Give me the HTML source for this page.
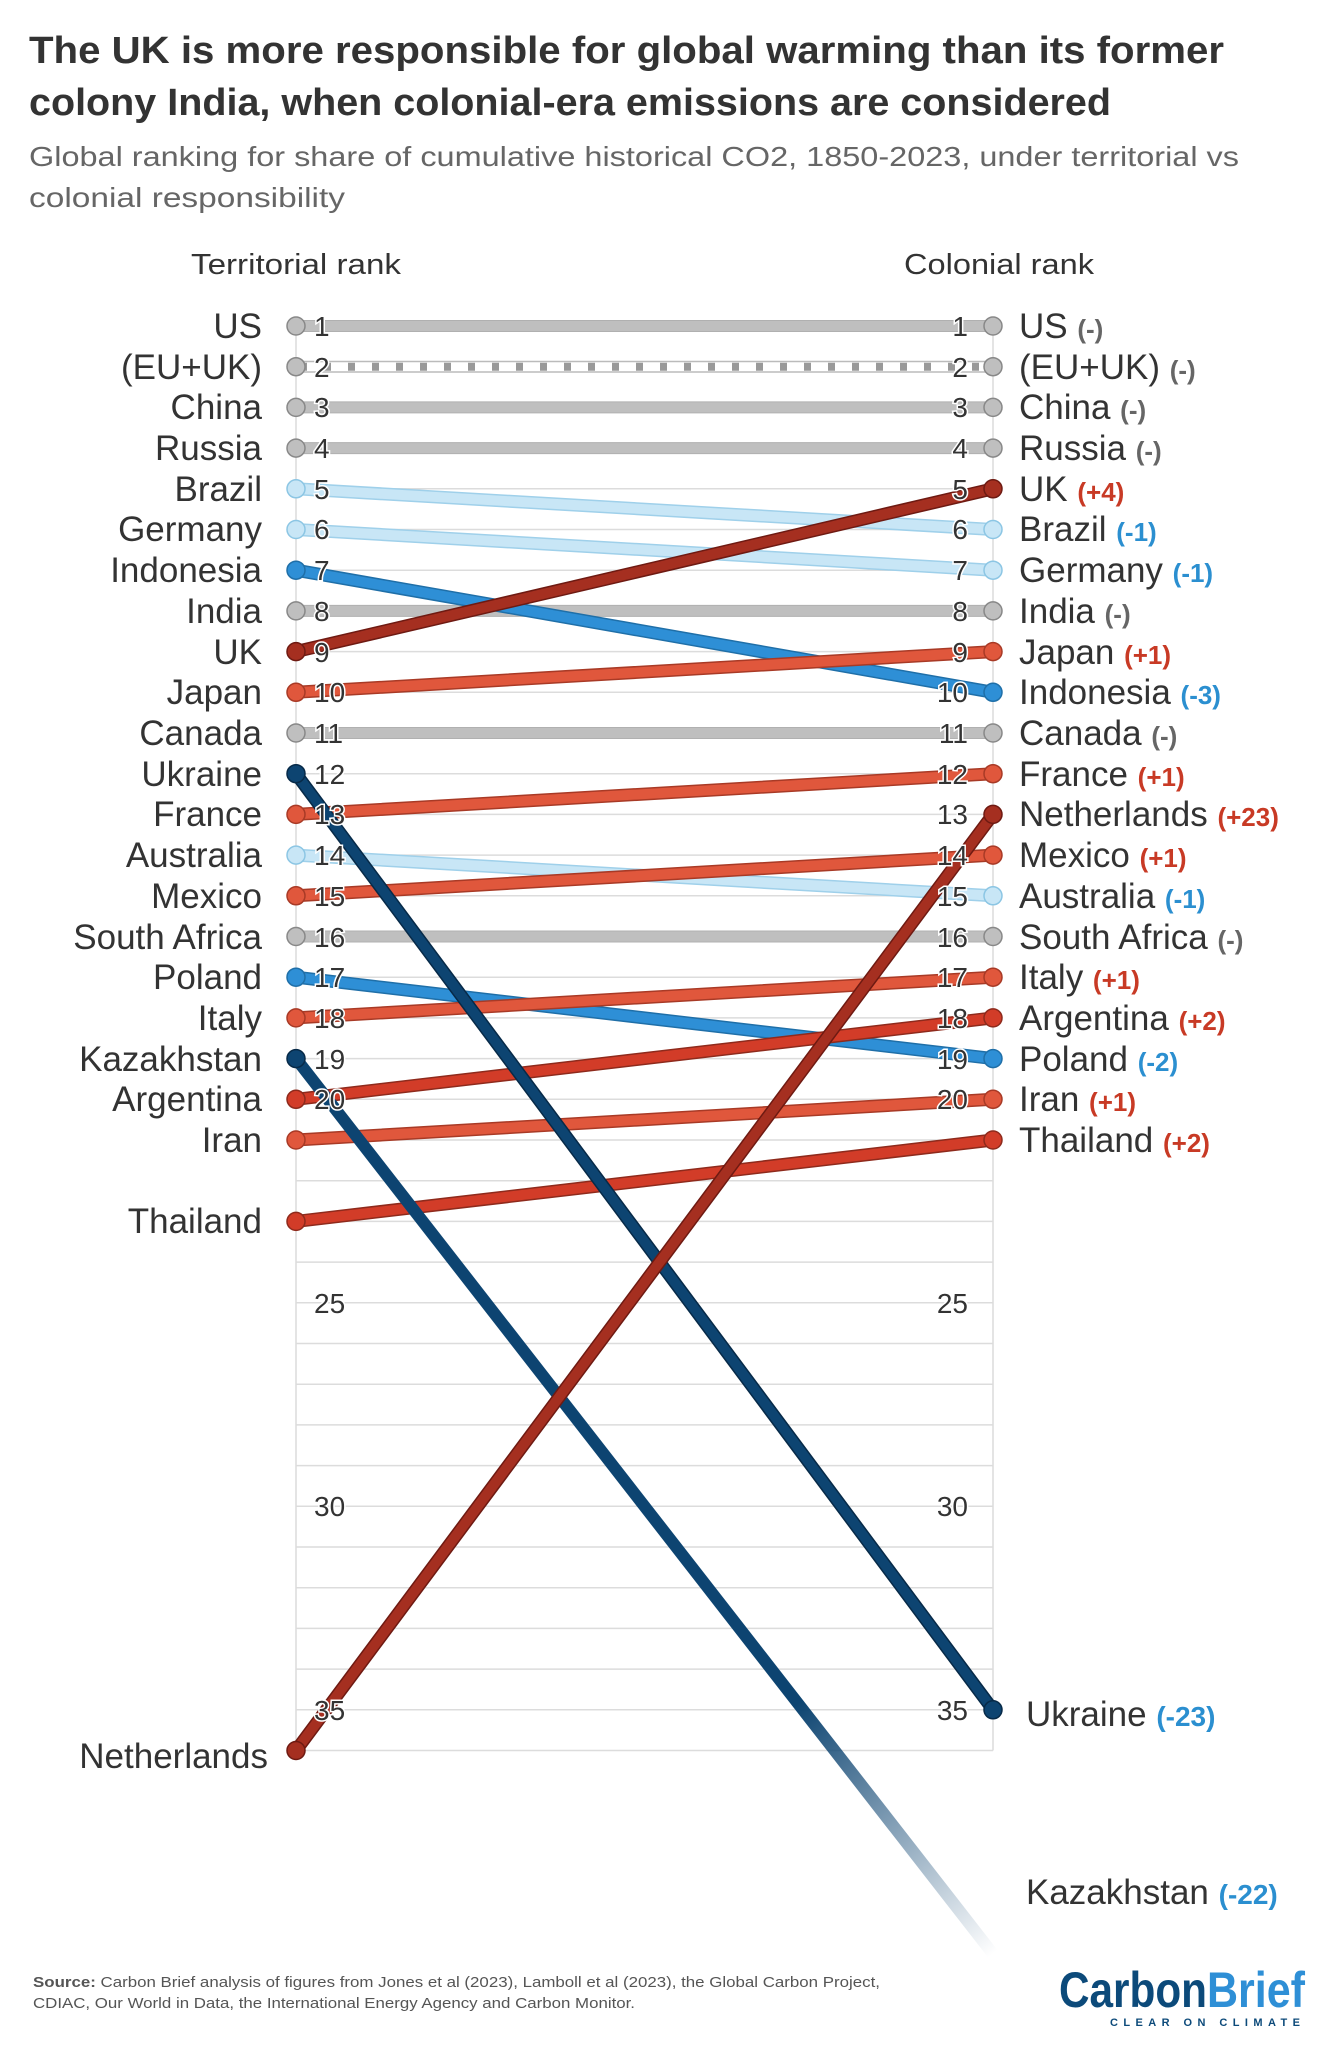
<!DOCTYPE html>
<html><head><meta charset="utf-8"><style>
html,body{margin:0;padding:0;background:#fff;}
svg{display:block;font-family:"Liberation Sans",sans-serif;}
</style></head><body>
<svg width="1341" height="2048" viewBox="0 0 1341 2048" xmlns="http://www.w3.org/2000/svg">
<defs>
<linearGradient id="kz" gradientUnits="userSpaceOnUse" x1="296" y1="1058.6" x2="993" y2="1954">
<stop offset="0" stop-color="#0d4471" stop-opacity="1"/>
<stop offset="0.72" stop-color="#0d4471" stop-opacity="1"/>
<stop offset="1" stop-color="#0d4471" stop-opacity="0"/>
</linearGradient>
</defs>
<text x="29" y="63" font-size="38" font-weight="bold" fill="#333" textLength="1195" lengthAdjust="spacingAndGlyphs">The UK is more responsible for global warming than its former</text>
<text x="29" y="115" font-size="38" font-weight="bold" fill="#333" textLength="1082" lengthAdjust="spacingAndGlyphs">colony India, when colonial-era emissions are considered</text>
<text x="29" y="166" font-size="28" fill="#666" textLength="1210" lengthAdjust="spacingAndGlyphs">Global ranking for share of cumulative historical CO2, 1850-2023, under territorial vs</text>
<text x="29" y="207" font-size="28" fill="#666" textLength="316" lengthAdjust="spacingAndGlyphs">colonial responsibility</text>

<text x="296" y="274" font-size="29" fill="#333" text-anchor="middle" textLength="210" lengthAdjust="spacingAndGlyphs">Territorial rank</text>
<text x="999" y="274" font-size="29" fill="#333" text-anchor="middle" textLength="190" lengthAdjust="spacingAndGlyphs">Colonial rank</text>

<g stroke="#dcdcdc" stroke-width="1.5" fill="none">
<path d="M296 366.7H993M296 407.4H993M296 448.1H993M296 488.8H993M296 529.5H993M296 570.2H993M296 610.9H993M296 651.6H993M296 692.3H993M296 733H993M296 773.7H993M296 814.4H993M296 855.1H993M296 895.8H993M296 936.5H993M296 977.2H993M296 1017.9H993M296 1058.6H993M296 1099.3H993M296 1140H993M296 1180.7H993M296 1221.4H993M296 1262.1H993M296 1302.8H993M296 1343.5H993M296 1384.2H993M296 1424.9H993M296 1465.6H993M296 1506.3H993M296 1547H993M296 1587.7H993M296 1628.4H993M296 1669.1H993M296 1709.8H993M296 1750.5H993M296 326H993"/>
<path d="M296 326V1750.5M993 326V1750.5"/>
</g>

<g stroke-linecap="round" fill="none">
<g stroke="#b0b0b0" stroke-width="12">
<path d="M296 326L993 326M296 407.4L993 407.4M296 448.1L993 448.1M296 610.9L993 610.9M296 733L993 733M296 936.5L993 936.5"/>
</g>
<g stroke="#bfbfbf" stroke-width="10">
<path d="M296 326L993 326M296 407.4L993 407.4M296 448.1L993 448.1M296 610.9L993 610.9M296 733L993 733M296 936.5L993 936.5"/>
</g>
<path d="M296 366.7L993 366.7" stroke="#bbb" stroke-width="12"/>
<path d="M296 366.7L993 366.7" stroke="#fff" stroke-width="9"/>
<path d="M300 366.7L990 366.7" stroke="#999" stroke-width="8" stroke-dasharray="7 17" stroke-linecap="butt"/>
<g stroke="#9fd0ea" stroke-width="13"><path d="M296 488.8L993 529.5M296 529.5L993 570.2M296 855.1L993 895.8"/></g>
<g stroke="#c8e6f6" stroke-width="10"><path d="M296 488.8L993 529.5M296 529.5L993 570.2M296 855.1L993 895.8"/></g>
<g stroke="#1f6fa8" stroke-width="13"><path d="M296 570.2L993 692.3M296 977.2L993 1058.6"/></g>
<g stroke="#2e8fd6" stroke-width="10"><path d="M296 570.2L993 692.3M296 977.2L993 1058.6"/></g>
<g stroke="#a83a26" stroke-width="13"><path d="M296 692.3L993 651.6M296 814.4L993 773.7M296 895.8L993 855.1M296 1017.9L993 977.2M296 1140L993 1099.3"/></g>
<g stroke="#e0573c" stroke-width="10"><path d="M296 692.3L993 651.6M296 814.4L993 773.7M296 895.8L993 855.1M296 1017.9L993 977.2M296 1140L993 1099.3"/></g>
<g stroke="#8e2a1c" stroke-width="13"><path d="M296 1099.3L993 1017.9M296 1221.4L993 1140"/></g>
<g stroke="#d23c28" stroke-width="10"><path d="M296 1099.3L993 1017.9M296 1221.4L993 1140"/></g>
<path d="M296 773.7L993 1709.8" stroke="#072a48" stroke-width="13"/>
<path d="M296 773.7L993 1709.8" stroke="#0d4471" stroke-width="10"/>
<path d="M296 1058.6L993 1954" stroke="url(#kz)" stroke-width="12" stroke-linecap="butt"/>
<g stroke="#6e1a12" stroke-width="13"><path d="M296 651.6L993 488.8M296 1750.5L993 814.4"/></g>
<g stroke="#a52f20" stroke-width="10"><path d="M296 651.6L993 488.8M296 1750.5L993 814.4"/></g>
</g>

<g stroke-width="1.5">
<g fill="#bfbfbf" stroke="#888">
<circle cx="296" cy="326" r="9"/><circle cx="993" cy="326" r="9"/>
<circle cx="296" cy="366.7" r="9"/><circle cx="993" cy="366.7" r="9"/>
<circle cx="296" cy="407.4" r="9"/><circle cx="993" cy="407.4" r="9"/>
<circle cx="296" cy="448.1" r="9"/><circle cx="993" cy="448.1" r="9"/>
<circle cx="296" cy="610.9" r="9"/><circle cx="993" cy="610.9" r="9"/>
<circle cx="296" cy="733" r="9"/><circle cx="993" cy="733" r="9"/>
<circle cx="296" cy="936.5" r="9"/><circle cx="993" cy="936.5" r="9"/>
</g>
<g fill="#c8e6f6" stroke="#8cc6e4">
<circle cx="296" cy="488.8" r="9"/><circle cx="993" cy="529.5" r="9"/>
<circle cx="296" cy="529.5" r="9"/><circle cx="993" cy="570.2" r="9"/>
<circle cx="296" cy="855.1" r="9"/><circle cx="993" cy="895.8" r="9"/>
</g>
<g fill="#2e8fd6" stroke="#1f6fa8">
<circle cx="296" cy="570.2" r="9"/><circle cx="993" cy="692.3" r="9"/>
<circle cx="296" cy="977.2" r="9"/><circle cx="993" cy="1058.6" r="9"/>
</g>
<g fill="#e0573c" stroke="#a83a26">
<circle cx="296" cy="692.3" r="9"/><circle cx="993" cy="651.6" r="9"/>
<circle cx="296" cy="814.4" r="9"/><circle cx="993" cy="773.7" r="9"/>
<circle cx="296" cy="895.8" r="9"/><circle cx="993" cy="855.1" r="9"/>
<circle cx="296" cy="1017.9" r="9"/><circle cx="993" cy="977.2" r="9"/>
<circle cx="296" cy="1140" r="9"/><circle cx="993" cy="1099.3" r="9"/>
</g>
<g fill="#d23c28" stroke="#8e2a1c">
<circle cx="296" cy="1099.3" r="9"/><circle cx="993" cy="1017.9" r="9"/>
<circle cx="296" cy="1221.4" r="9"/><circle cx="993" cy="1140" r="9"/>
</g>
<g fill="#0d4471" stroke="#072a48">
<circle cx="296" cy="773.7" r="9"/><circle cx="993" cy="1709.8" r="9"/>
<circle cx="296" cy="1058.6" r="9"/>
</g>
<g fill="#a52f20" stroke="#6e1a12">
<circle cx="296" cy="651.6" r="9"/><circle cx="993" cy="488.8" r="9"/>
<circle cx="296" cy="1750.5" r="9"/><circle cx="993" cy="814.4" r="9"/>
</g>
</g>

<g font-size="28" fill="#333" stroke="#fff" stroke-width="3" paint-order="stroke">
<text x="314" y="336">1</text><text x="314" y="377">2</text><text x="314" y="417">3</text><text x="314" y="458">4</text>
<text x="314" y="499">5</text><text x="314" y="539">6</text><text x="314" y="580">7</text><text x="314" y="621">8</text>
<text x="314" y="662">9</text><text x="314" y="702">10</text><text x="314" y="743">11</text><text x="314" y="784">12</text>
<text x="314" y="824">13</text><text x="314" y="865">14</text><text x="314" y="906">15</text><text x="314" y="947">16</text>
<text x="314" y="987">17</text><text x="314" y="1028">18</text><text x="314" y="1069">19</text><text x="314" y="1109">20</text>
<text x="314" y="1313">25</text><text x="314" y="1516">30</text><text x="314" y="1720">35</text>
</g>
<g font-size="28" fill="#333" text-anchor="end" stroke="#fff" stroke-width="3" paint-order="stroke">
<text x="968" y="336">1</text><text x="968" y="377">2</text><text x="968" y="417">3</text><text x="968" y="458">4</text>
<text x="968" y="499">5</text><text x="968" y="539">6</text><text x="968" y="580">7</text><text x="968" y="621">8</text>
<text x="968" y="662">9</text><text x="968" y="702">10</text><text x="968" y="743">11</text><text x="968" y="784">12</text>
<text x="968" y="824">13</text><text x="968" y="865">14</text><text x="968" y="906">15</text><text x="968" y="947">16</text>
<text x="968" y="987">17</text><text x="968" y="1028">18</text><text x="968" y="1069">19</text><text x="968" y="1109">20</text>
<text x="968" y="1313">25</text><text x="968" y="1516">30</text><text x="968" y="1720">35</text>
</g>

<g font-size="35" fill="#333" text-anchor="end">
<text x="262" y="338">US</text><text x="262" y="379">(EU+UK)</text><text x="262" y="419">China</text><text x="262" y="460">Russia</text>
<text x="262" y="501">Brazil</text><text x="262" y="541">Germany</text><text x="262" y="582">Indonesia</text><text x="262" y="623">India</text>
<text x="262" y="664">UK</text><text x="262" y="704">Japan</text><text x="262" y="745">Canada</text><text x="262" y="786">Ukraine</text>
<text x="262" y="826">France</text><text x="262" y="867">Australia</text><text x="262" y="908">Mexico</text><text x="262" y="949">South Africa</text>
<text x="262" y="989">Poland</text><text x="262" y="1030">Italy</text><text x="262" y="1071">Kazakhstan</text><text x="262" y="1111">Argentina</text>
<text x="262" y="1152">Iran</text><text x="262" y="1233">Thailand</text><text x="268" y="1768">Netherlands</text>
</g>

<g font-size="35" fill="#333">
<text x="1019" y="338">US <tspan font-size="26" font-weight="bold" fill="#666">(-)</tspan></text>
<text x="1019" y="379">(EU+UK) <tspan font-size="26" font-weight="bold" fill="#666">(-)</tspan></text>
<text x="1019" y="419">China <tspan font-size="26" font-weight="bold" fill="#666">(-)</tspan></text>
<text x="1019" y="460">Russia <tspan font-size="26" font-weight="bold" fill="#666">(-)</tspan></text>
<text x="1019" y="501">UK <tspan font-size="26" font-weight="bold" fill="#c83a25">(+4)</tspan></text>
<text x="1019" y="541">Brazil <tspan font-size="26" font-weight="bold" fill="#2b8fd0">(-1)</tspan></text>
<text x="1019" y="582">Germany <tspan font-size="26" font-weight="bold" fill="#2b8fd0">(-1)</tspan></text>
<text x="1019" y="623">India <tspan font-size="26" font-weight="bold" fill="#666">(-)</tspan></text>
<text x="1019" y="664">Japan <tspan font-size="26" font-weight="bold" fill="#c83a25">(+1)</tspan></text>
<text x="1019" y="704">Indonesia <tspan font-size="26" font-weight="bold" fill="#2b8fd0">(-3)</tspan></text>
<text x="1019" y="745">Canada <tspan font-size="26" font-weight="bold" fill="#666">(-)</tspan></text>
<text x="1019" y="786">France <tspan font-size="26" font-weight="bold" fill="#c83a25">(+1)</tspan></text>
<text x="1019" y="826">Netherlands <tspan font-size="26" font-weight="bold" fill="#c83a25">(+23)</tspan></text>
<text x="1019" y="867">Mexico <tspan font-size="26" font-weight="bold" fill="#c83a25">(+1)</tspan></text>
<text x="1019" y="908">Australia <tspan font-size="26" font-weight="bold" fill="#2b8fd0">(-1)</tspan></text>
<text x="1019" y="949">South Africa <tspan font-size="26" font-weight="bold" fill="#666">(-)</tspan></text>
<text x="1019" y="989">Italy <tspan font-size="26" font-weight="bold" fill="#c83a25">(+1)</tspan></text>
<text x="1019" y="1030">Argentina <tspan font-size="26" font-weight="bold" fill="#c83a25">(+2)</tspan></text>
<text x="1019" y="1071">Poland <tspan font-size="26" font-weight="bold" fill="#2b8fd0">(-2)</tspan></text>
<text x="1019" y="1111">Iran <tspan font-size="26" font-weight="bold" fill="#c83a25">(+1)</tspan></text>
<text x="1019" y="1152">Thailand <tspan font-size="26" font-weight="bold" fill="#c83a25">(+2)</tspan></text>
<text x="1026" y="1726">Ukraine <tspan font-size="28" font-weight="bold" fill="#2b8fd0">(-23)</tspan></text>
<text x="1026" y="1904">Kazakhstan <tspan font-size="28" font-weight="bold" fill="#2b8fd0">(-22)</tspan></text>
</g>

<text x="33" y="1987" font-size="15" fill="#555" textLength="847" lengthAdjust="spacingAndGlyphs"><tspan font-weight="bold">Source:</tspan> Carbon Brief analysis of figures from Jones et al (2023), Lamboll et al (2023), the Global Carbon Project,</text>
<text x="33" y="2008" font-size="15" fill="#555" textLength="602" lengthAdjust="spacingAndGlyphs">CDIAC, Our World in Data, the International Energy Agency and Carbon Monitor.</text>

<text x="1059" y="2007" font-size="50" font-weight="bold" fill="#0c4a7a" textLength="148" lengthAdjust="spacingAndGlyphs">Carbon</text>
<text x="1207" y="2007" font-size="50" font-weight="bold" fill="#2e8fd6" textLength="98" lengthAdjust="spacingAndGlyphs">Brief</text>
<text x="1110" y="2026" font-size="11" font-weight="bold" fill="#0c4a7a" textLength="190" lengthAdjust="spacing">CLEAR ON CLIMATE</text>
</svg>
</body></html>
